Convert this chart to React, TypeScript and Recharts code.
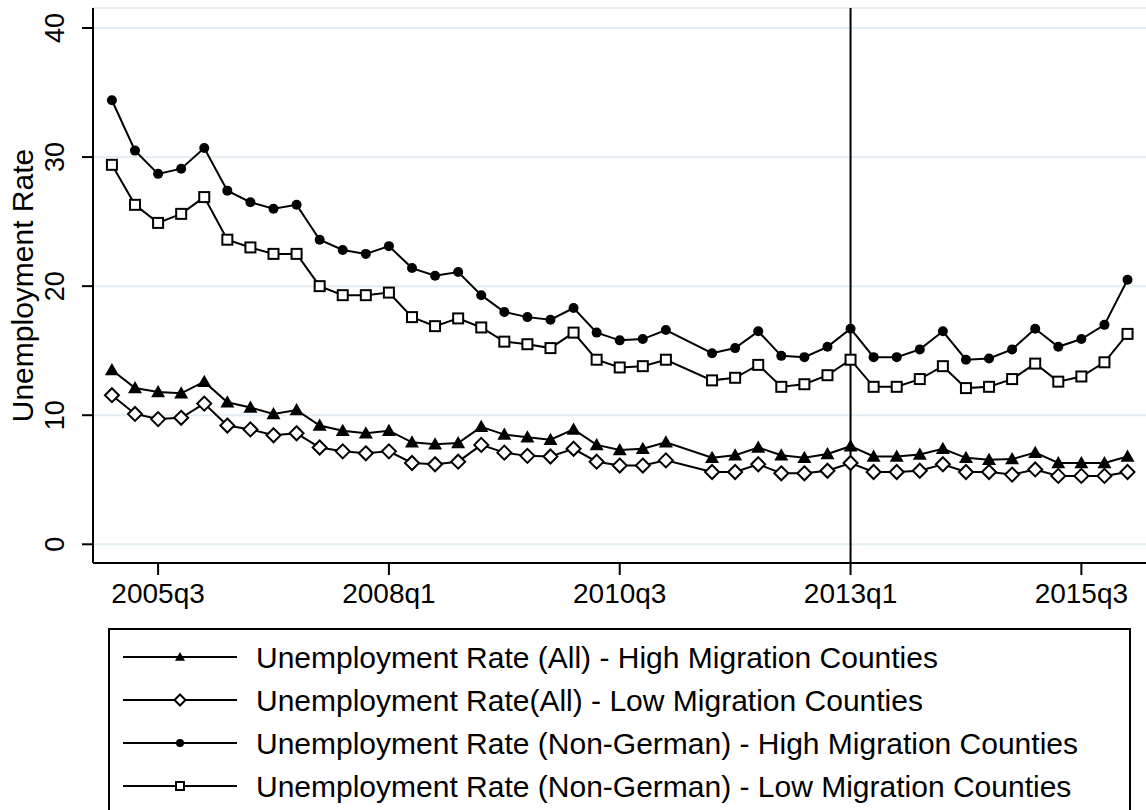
import React from "react";
import {
  LineChart,
  Line,
  XAxis,
  YAxis,
  CartesianGrid,
  ReferenceLine,
} from "recharts";

// quarters from 2005q1 to 2016q1 (2011q2 is missing in the source data)
const quarters = [
  "2005q1", "2005q2", "2005q3", "2005q4",
  "2006q1", "2006q2", "2006q3", "2006q4",
  "2007q1", "2007q2", "2007q3", "2007q4",
  "2008q1", "2008q2", "2008q3", "2008q4",
  "2009q1", "2009q2", "2009q3", "2009q4",
  "2010q1", "2010q2", "2010q3", "2010q4",
  "2011q1", "2011q2", "2011q3", "2011q4",
  "2012q1", "2012q2", "2012q3", "2012q4",
  "2013q1", "2013q2", "2013q3", "2013q4",
  "2014q1", "2014q2", "2014q3", "2014q4",
  "2015q1", "2015q2", "2015q3", "2015q4",
  "2016q1",
];

const allHigh = [
  13.5, 12.1, 11.8, 11.7, 12.6, 11.0, 10.6, 10.1, 10.4, 9.2, 8.8, 8.6,
  8.8, 7.9, 7.75, 7.85, 9.1, 8.5, 8.3, 8.1, 8.9, 7.7, 7.3, 7.4,
  7.9, null, 6.7, 6.9, 7.5, 6.9, 6.7, 7.0, 7.6, 6.8, 6.8, 6.95,
  7.4, 6.7, 6.55, 6.6, 7.1, 6.3, 6.3, 6.3, 6.8,
];

const allLow = [
  11.55, 10.1, 9.7, 9.8, 10.9, 9.2, 8.9, 8.45, 8.6, 7.5, 7.2, 7.05,
  7.2, 6.3, 6.2, 6.4, 7.7, 7.1, 6.85, 6.8, 7.4, 6.4, 6.1, 6.1,
  6.5, null, 5.6, 5.6, 6.2, 5.5, 5.5, 5.7, 6.3, 5.6, 5.6, 5.7,
  6.2, 5.6, 5.6, 5.4, 5.8, 5.3, 5.3, 5.3, 5.6,
];

const nonGermanHigh = [
  34.4, 30.5, 28.7, 29.1, 30.7, 27.4, 26.5, 26.0, 26.3, 23.6, 22.8, 22.5,
  23.1, 21.4, 20.8, 21.1, 19.3, 18.0, 17.6, 17.4, 18.3, 16.4, 15.8, 15.9,
  16.6, null, 14.8, 15.2, 16.5, 14.6, 14.5, 15.3, 16.7, 14.5, 14.5, 15.1,
  16.5, 14.3, 14.4, 15.1, 16.7, 15.3, 15.9, 17.0, 20.5,
];

const nonGermanLow = [
  29.4, 26.3, 24.9, 25.6, 26.9, 23.6, 23.0, 22.5, 22.5, 20.0, 19.3, 19.3,
  19.5, 17.6, 16.9, 17.5, 16.8, 15.7, 15.5, 15.2, 16.4, 14.3, 13.7, 13.8,
  14.3, null, 12.7, 12.9, 13.9, 12.2, 12.4, 13.1, 14.3, 12.2, 12.2, 12.8,
  13.8, 12.1, 12.2, 12.8, 14.0, 12.6, 13.0, 14.1, 16.3,
];

const xTicks = [2, 12, 22, 32, 42];
const yTicks = [0, 10, 20, 30, 40];
const cutoffQuarter = 32; // 2013q1

const legendLabels = [
  "Unemployment Rate (All) - High Migration Counties",
  "Unemployment Rate(All) - Low Migration Counties",
  "Unemployment Rate (Non-German) - High Migration Counties",
  "Unemployment Rate (Non-German) - Low Migration Counties",
];

const data = quarters.map((q, i) => ({
  idx: i,
  allHigh: allHigh[i],
  allLow: allLow[i],
  ngHigh: nonGermanHigh[i],
  ngLow: nonGermanLow[i],
}));

const FONT = "'Liberation Sans', Arial, sans-serif";

// marker shapes
const Triangle = ({ cx, cy, s = 7 }: any) => (
  <polygon
    points={`${cx},${cy - s} ${cx - s},${cy + s * 0.75} ${cx + s},${cy + s * 0.75}`}
    fill="#000"
  />
);
const Diamond = ({ cx, cy, s = 7 }: any) => (
  <polygon
    points={`${cx},${cy - s} ${cx + s},${cy} ${cx},${cy + s} ${cx - s},${cy}`}
    fill="#fff"
    stroke="#000"
    strokeWidth={2}
  />
);
const Dot = ({ cx, cy, s = 5 }: any) => <circle cx={cx} cy={cy} r={s} fill="#000" />;
const Square = ({ cx, cy, s = 5 }: any) => (
  <rect x={cx - s} y={cy - s} width={s * 2} height={s * 2} fill="#fff" stroke="#000" strokeWidth={2} />
);

const markerFor = (Shape: any) => (props: any) => {
  const { cx, cy, index, value } = props;
  if (cx == null || cy == null || value == null) return <g key={`e-${index}`} />;
  return <Shape key={`m-${index}`} cx={cx} cy={cy} />;
};

const YTick = ({ x, y, payload }: any) => (
  <text
    x={x - 25}
    y={y}
    transform={`rotate(-90, ${x - 25}, ${y})`}
    textAnchor="middle"
    dominantBaseline="central"
    fontSize={27}
    fontFamily={FONT}
    fill="#000"
  >
    {payload.value}
  </text>
);

const XTick = ({ x, y, payload }: any) => (
  <text x={x} y={y + 26} textAnchor="middle" fontSize={28} fontFamily={FONT} fill="#000">
    {quarters[payload.value]}
  </text>
);

const shapes = [Triangle, Diamond, Dot, Square];

const App = () => {
  return (
    <div
      style={{
        position: "absolute",
        left: 0,
        top: 0,
        width: 1146,
        height: 810,
        overflow: "hidden",
        background: "#fff",
      }}
    >
      <LineChart
        width={1146}
        height={810}
        data={data}
        margin={{ top: 8, right: 0, left: 0, bottom: 207 }}
      >
        <CartesianGrid horizontal vertical={false} stroke="#e4edf1" strokeWidth={2} />
        <XAxis
          dataKey="idx"
          type="number"
          domain={[-0.82, 44.8]}
          allowDataOverflow
          ticks={xTicks}
          tick={<XTick />}
          tickSize={12}
          height={40}
          stroke="#000"
          strokeWidth={2}
          tickLine={{ stroke: "#000", strokeWidth: 2 }}
        />
        <YAxis
          type="number"
          domain={[-1.45, 41.55]}
          allowDataOverflow
          ticks={yTicks}
          tick={<YTick />}
          tickSize={11}
          width={93}
          stroke="#000"
          strokeWidth={2}
          tickLine={{ stroke: "#000", strokeWidth: 2 }}
          label={{
            value: "Unemployment Rate",
            angle: -90,
            position: "insideLeft",
            dx: 17,
            style: { textAnchor: "middle", fontSize: 30, fontFamily: FONT, fill: "#000" },
          }}
        />
        <ReferenceLine x={cutoffQuarter} stroke="#000" strokeWidth={2} />
        <Line
          dataKey="allHigh"
          stroke="#000"
          strokeWidth={2}
          connectNulls
          isAnimationActive={false}
          dot={markerFor(Triangle)}
          activeDot={false}
        />
        <Line
          dataKey="allLow"
          stroke="#000"
          strokeWidth={2}
          connectNulls
          isAnimationActive={false}
          dot={markerFor(Diamond)}
          activeDot={false}
        />
        <Line
          dataKey="ngHigh"
          stroke="#000"
          strokeWidth={2}
          connectNulls
          isAnimationActive={false}
          dot={markerFor(Dot)}
          activeDot={false}
        />
        <Line
          dataKey="ngLow"
          stroke="#000"
          strokeWidth={2}
          connectNulls
          isAnimationActive={false}
          dot={markerFor(Square)}
          activeDot={false}
        />
      </LineChart>

      <div
        style={{
          position: "absolute",
          left: 108,
          top: 628,
          width: 1023,
          height: 200,
          border: "2px solid #000",
          boxSizing: "border-box",
        }}
      >
        <svg width={1020} height={200} style={{ position: "absolute", left: 0, top: 0 }}>
          {legendLabels.map((label, i) => {
            const cy = 27 + i * 43;
            const Shape = shapes[i];
            return (
              <g key={label}>
                <line x1={13} x2={127} y1={cy} y2={cy} stroke="#000" strokeWidth={2} />
                <Shape cx={70} cy={cy} s={i === 0 ? 5 : i === 1 ? 5.5 : 4} />
                <text
                  x={146}
                  y={cy}
                  dominantBaseline="central"
                  fontSize={30}
                  fontFamily={FONT}
                  fill="#000"
                >
                  {label}
                </text>
              </g>
            );
          })}
        </svg>
      </div>
    </div>
  );
};

export default App;
